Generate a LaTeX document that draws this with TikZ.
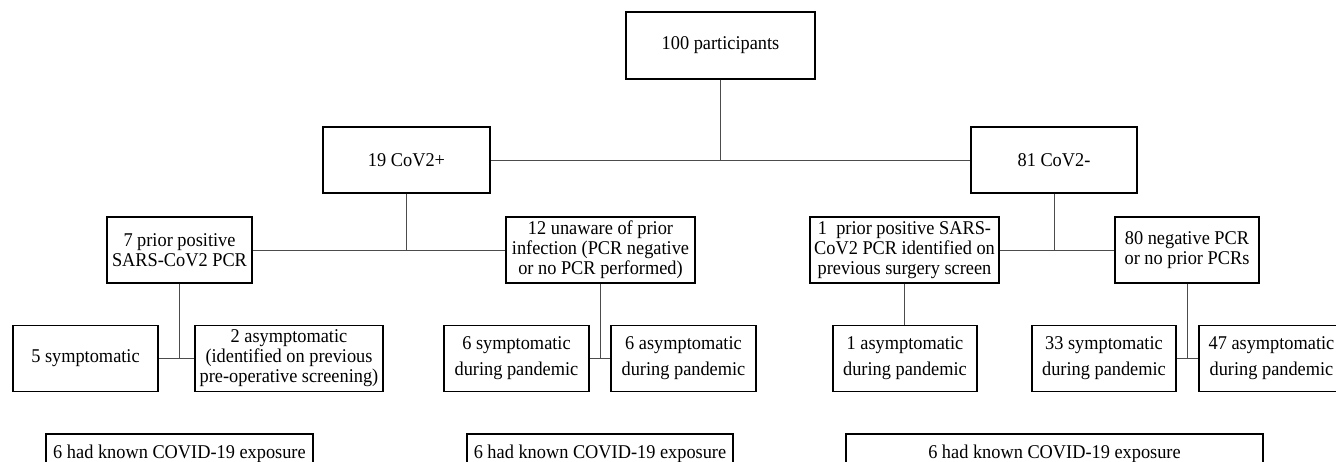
\documentclass[tikz,border=0pt]{standalone}
\usepackage{fontspec}
\setmainfont{Liberation Serif}[FakeStretch=0.94]
\usepackage{tikz}

\begin{document}
\begin{tikzpicture}[x=1pt,y=-1pt,
    box/.style={draw,line width=1.5pt,align=center,inner sep=2pt,
      minimum height=66pt,font=\fontsize{19.5}{20}\selectfont},
    widebox/.style={box,font=\fontsize{19.5}{26}\selectfont},
    link/.style={draw=black!70,line width=0.9pt}]
      \useasboundingbox (0,0) rectangle (1336,462);
      \clip (0,0) rectangle (1336,462);

      \node [box,minimum width=189pt,minimum height=67pt] (all) at (720.5,45.5) {100 participants};
      \node [box,minimum width=167pt] (pos) at (406.5,160) {19 CoV2+};
      \node [box,minimum width=166pt] (neg) at (1054,160) {81 CoV2-};

      \node [box,minimum width=145pt] (priorpos) at (179.5,250) {7 prior positive\\SARS-CoV2 PCR};
      \node [box,minimum width=189pt] (unaware) at (600.5,250) {12 unaware of prior\\infection (PCR negative\\or no PCR performed)};
      \node [box,minimum width=189pt] (priorneg) at (904.5,250) {1\ \ prior positive SARS-\\CoV2 PCR identified on\\previous surgery screen};
      \node [box,minimum width=144pt] (negpcr) at (1187,250) {80 negative PCR\\or no prior PCRs};

      \node [box,minimum width=145pt] (possym) at (85.5,358.5) {5 symptomatic};
      \node [box,minimum width=188pt] (posasym) at (289,358.5) {2 asymptomatic\\(identified on previous\\pre-operative screening)};
      \node [widebox,minimum width=145pt] (unsym) at (516.5,358.5) {6 symptomatic\\during pandemic};
      \node [widebox,minimum width=145pt] (unasym) at (683.5,358.5) {6 asymptomatic\\during pandemic};
      \node [widebox,minimum width=144pt] (pnasym) at (905,358.5) {1 asymptomatic\\during pandemic};
      \node [widebox,minimum width=144pt] (negsym) at (1104,358.5) {33 symptomatic\\during pandemic};
      \node [widebox,minimum width=145pt] (negasym) at (1271.5,358.5) {47 asymptomatic\\during pandemic};

      \node [box,anchor=north,minimum width=267pt,text height=23pt,text depth=40pt] (expA) at (179.5,433) {6 had known COVID-19 exposure};
      \node [box,anchor=north,minimum width=266pt,text height=23pt,text depth=40pt] (expB) at (600,433) {6 had known COVID-19 exposure};
      \node [box,anchor=north,minimum width=417pt,text height=23pt,text depth=40pt] (expC) at (1054.5,433) {6 had known COVID-19 exposure};

      \draw [link] (all.south) -- (all.south |- pos.east);
      \draw [link] (pos.east) -- (neg.west);

      \draw [link] (pos.south) -- (pos.south |- priorpos.east);
      \draw [link] (priorpos.east) -- (unaware.west);
      \draw [link] (neg.south) -- (neg.south |- priorneg.east);
      \draw [link] (priorneg.east) -- (negpcr.west);

      \draw [link] (priorpos.south) -- (priorpos.south |- possym.east);
      \draw [link] (possym.east) -- (posasym.west);
      \draw [link] (unaware.south) -- (unaware.south |- unsym.east);
      \draw [link] (unsym.east) -- (unasym.west);
      \draw [link] (priorneg.south) -- (pnasym.north -| priorneg.south);
      \draw [link] (negpcr.south) -- (negpcr.south |- negsym.east);
      \draw [link] (negsym.east) -- (negasym.west);
    \end{tikzpicture}
\end{document}
